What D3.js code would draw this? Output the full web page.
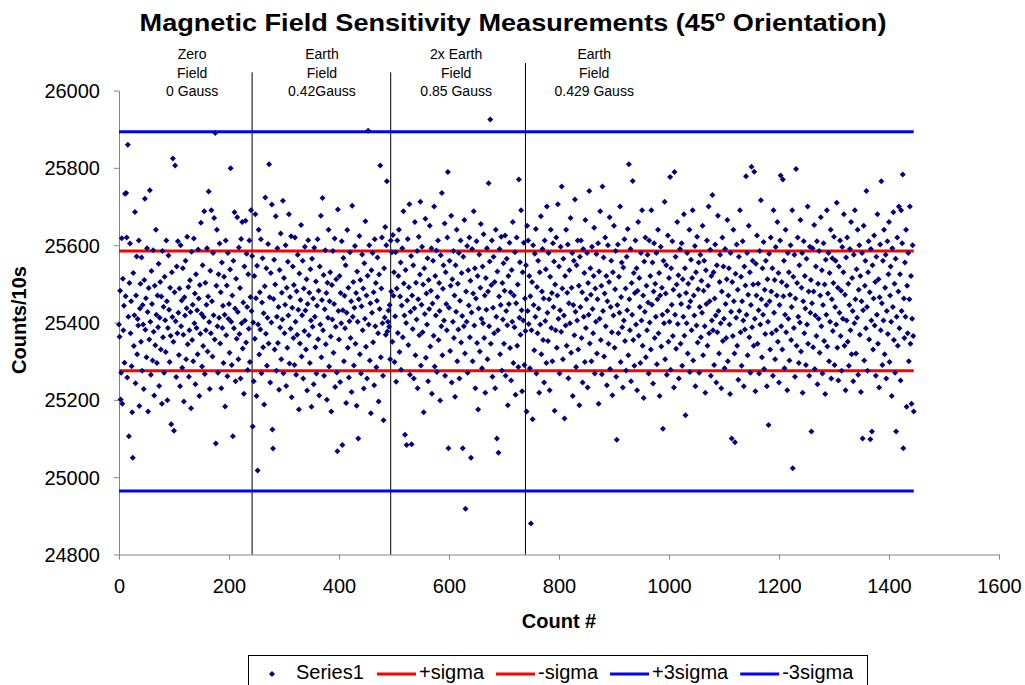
<!DOCTYPE html>
<html>
<head>
<meta charset="utf-8">
<script src="https://cdn.jsdelivr.net/npm/d3@7"></script>
<style>
  html, body { margin: 0; padding: 0; background: #fff; }
  svg { display: block; font-family: "Liberation Sans", Arial, sans-serif; }
</style>
</head>
<body>
<svg id="chart" width="1025" height="685"></svg>
<script>
// ---------- data ----------
const counts = [
25395,25363,25482,25201,25270,25618,25190,25513,25380,25443,25296,25733,25468,25735,25620,25258,25860,25415,25106,25502,
25604,25372,25455,25287,25168,25050,25528,25339,25419,25686,25243,25470,25571,25318,25409,25392,25612,25184,25436,25500,
25350,25568,25275,25445,25395,25228,25510,25720,25381,25463,25310,25592,25427,25170,25489,25356,25742,25402,25265,25533,
25448,25302,25587,25376,25211,25495,25341,25640,25420,25295,25470,25388,25552,25236,25412,25505,25330,25467,25190,25585,
25362,25441,25270,25518,25406,25324,25612,25455,25199,25386,25573,25433,25298,25490,25366,25137,25530,25414,25824,25350,
25120,25478,25806,25403,25259,25545,25372,25610,25425,25316,25488,25235,25600,25390,25457,25283,25540,25368,25196,25465,
25418,25560,25305,25437,25622,25344,25492,25260,25380,25509,25427,25178,25583,25355,25446,25300,25617,25398,25475,25240,
25525,25386,25432,25318,25589,25462,25210,25497,25371,25658,25422,25286,25548,25339,25414,25688,25267,25503,25380,25446,
25592,25325,25467,25739,25401,25228,25534,25372,25690,25455,25312,25580,25419,25670,25356,25890,25087,25495,25640,25390,
25270,25525,25412,25604,25346,25478,25230,25555,25386,25443,25295,25518,25420,25183,25612,25367,25496,25261,25580,25410,
25448,25322,25537,25799,25402,25290,25470,25106,25560,25385,25685,25436,25248,25513,25358,25672,25427,25305,25594,25370,
25489,25255,25616,25398,25660,25333,25452,25216,25545,25405,25663,25348,25578,25440,25277,25525,25384,25612,25298,25466,
25690,25430,25572,25131,25400,25248,25520,25358,25680,25463,25210,25547,25017,25395,25640,25317,25478,25382,25615,25269,
25452,25566,25336,25424,25188,25494,25723,25371,25540,25288,25412,25603,25346,25809,25465,25245,25528,25400,25705,25123,
25074,25461,25562,25330,25498,25675,25275,25415,25592,25347,25440,25226,25536,25387,25630,25305,25477,25408,25715,25269,
25515,25372,25446,25600,25236,25490,25335,25557,25418,25680,25294,25466,25384,25623,25207,25438,25545,25360,25497,25290,
25620,25402,25265,25481,25368,25575,25433,25175,25527,25346,25458,25652,25312,25419,25560,25255,25488,25378,25596,25431,
25330,25512,25224,25448,25613,25367,25477,25295,25538,25405,25182,25565,25389,25462,25240,25593,25415,25336,25506,25268,
25443,25615,25357,25482,25211,25545,25395,25676,25310,25458,25722,25380,25523,25262,25434,25587,25344,25476,25200,25503,
25412,25640,25286,25455,25530,25364,25170,25497,25408,25585,25322,25448,25617,25233,25389,25512,25271,25067,25692,25430,
25356,25520,25246,25476,25398,25610,25083,25432,25567,25300,25469,25385,25548,25192,25425,25639,25335,25490,25258,25403,
25582,25360,25455,25220,25702,25415,25505,25289,25438,25598,25345,25476,25185,25532,25402,25100,25460,25624,25318,25510,
25268,25442,25576,25380,25488,25229,25553,25410,25662,25337,25470,25255,25521,25896,25395,25600,25302,25450,25165,25535,
25425,25580,25349,25478,25238,25615,25390,25502,25284,25456,25568,25372,25196,25524,25435,25806,25310,25488,25620,25398,
25262,25147,25540,25413,25647,25368,25600,25765,25377,25402,25431,25389,25445,25305,25612,25480,25582,25350,25626,25469,
25530,25298,25416,25582,25247,25488,25612,25373,25520,25640,25324,25467,25555,25278,25444,25592,25362,25688,25501,25418,
25110,25536,25399,25083,25457,25616,25342,25491,25706,25265,25428,25572,25085,25470,25383,25548,25255,25437,25660,25315,
25503,25408,25585,25230,25460,25622,25367,25524,25712,25289,25446,25596,25375,25498,25168,25540,25422,25668,25309,25475,
25395,25566,25248,25510,25435,25650,25338,25482,25592,25216,25449,25560,25366,25700,25286,25520,25418,25586,25272,25466,
25612,25355,25502,25430,25198,25574,25390,25735,25315,25487,25548,25405,25656,25262,25530,25448,25380,25620,25789,25075,
25438,25560,25326,25495,25676,25245,25512,25402,25585,25360,25470,25208,25548,25428,25640,25300,25500,25382,25580,25255,
25456,25612,25348,25528,25417,25075,25570,25390,25665,25320,24918,25480,25402,25598,25270,25535,25444,25620,25362,25508,
25050,25426,25590,25300,25475,25688,25392,25540,25230,25462,25610,25347,25520,25175,25436,25576,25325,25490,25655,25410,
25282,25545,25398,25628,25360,25470,25218,25515,25433,25592,25305,25480,25760,25390,25558,25925,25345,25497,25612,25260,
25438,25570,25372,25505,25230,25640,25415,25100,25532,25380,25063,25467,25590,25318,25445,25622,25276,25502,25408,25553,
25345,25482,25625,25262,25430,25565,25393,25186,25520,25448,25606,25334,25478,25250,25536,25402,25660,25295,25470,25388,
25582,25213,25450,25620,25340,25498,25285,25770,25412,25556,25368,25690,25432,25222,25530,25405,25606,25290,25462,25378,
25548,25170,25650,25430,25612,25396,25520,25282,25468,24880,25380,25505,25150,25600,25445,25328,25578,25415,25642,25268,
25492,25372,25560,25436,25218,25530,25395,25675,25318,25480,25590,25355,25462,25245,25612,25404,25538,25295,25700,25425,
25352,25580,25460,25225,25518,25640,25386,25476,25300,25605,25440,25558,25172,25498,25380,25620,25335,25470,25706,25410,
25545,25268,25432,25596,25376,25752,25488,25305,25565,25418,25152,25520,25392,25640,25340,25477,25602,25256,25450,25535,
25398,25670,25322,25490,25580,25210,25445,25560,25367,25718,25428,25285,25548,25405,25612,25330,25495,25186,25570,25440,
25612,25360,25478,25245,25590,25415,25528,25298,25665,25386,25460,25580,25232,25502,25420,25740,25346,25540,25472,25300,
25596,25435,25372,25520,25645,25268,25488,25402,25577,25320,25460,25605,25190,25532,25410,25688,25355,25495,25266,25752,
25430,25568,25312,25475,25620,25390,25520,25238,25455,25600,25345,25505,25672,25280,25440,25560,25375,25212,25530,25418,
25650,25335,25486,25585,25260,25097,25445,25602,25372,25518,25425,25700,25298,25466,25555,25388,25232,25542,25405,25615,
25352,25488,25276,25570,25432,25642,25315,25809,25460,25380,25590,25248,25502,25420,25766,25355,25528,25288,25476,25612,
25395,25540,25225,25482,25660,25366,25515,25440,25295,25580,25405,25690,25340,25470,25205,25558,25428,25620,25310,25495,
25380,25575,25452,25268,25612,25400,25520,25330,25690,25446,25555,25242,25480,25605,25360,25500,25415,25580,25292,25460,
25640,25372,25528,25210,25470,25596,25338,25490,25420,25125,25560,25398,25712,25305,25475,25548,25265,25430,25625,25350,
25515,25402,25776,25278,25540,25446,25610,25365,25485,25232,25789,25420,25570,25332,25498,25660,25396,25522,25255,25470,
25590,25345,25448,25605,25288,25512,25415,25680,25366,25540,25160,25476,25398,25580,25320,25500,25440,25640,25272,25455,
25562,25380,25515,25690,25302,25470,25418,25598,25235,25530,25392,25622,25348,25486,25555,25270,25440,25575,25362,25508,
25425,25650,25315,25482,25560,25390,25218,25535,25448,25612,25340,25495,25700,25372,25455,25588,25262,25520,25405,25730,
25380,25530,25290,25462,25602,25418,25245,25548,25375,25676,25430,25320,25505,25575,25398,25230,25480,25620,25352,25545,
25410,25282,25590,25448,25360,25512,25665,25300,25470,25540,25395,25215,25580,25428,25100,25505,25365,25640,25455,25320,
25090,25526,25412,25602,25340,25485,25252,25570,25430,25690,25375,25518,25288,25455,25610,25405,25235,25545,25382,25496,
25778,25420,25580,25315,25472,25650,25362,25530,25270,25445,25803,25388,25560,25498,25340,25790,25410,25222,25552,25470,
25625,25345,25500,25432,25268,25585,25395,25716,25460,25310,25540,25420,25608,25280,25485,25370,25560,25445,25235,25512,
25402,25135,25578,25455,25330,25620,25480,25372,25540,25262,25690,25425,25510,25305,25595,25380,25470,25660,25350,25528,
25245,25445,25612,25780,25390,25505,25330,25770,25468,25560,25282,25420,25640,25375,25495,25225,25580,25410,25530,25302,
25472,25600,25355,25440,25690,25023,25518,25386,25575,25260,25462,25797,25340,25502,25620,25415,25295,25548,25400,25665,
25325,25490,25580,25218,25455,25610,25372,25520,25436,25290,25565,25395,25700,25345,25480,25262,25596,25425,25510,25118,
25450,25592,25336,25480,25652,25280,25418,25545,25365,25610,25240,25500,25410,25585,25322,25470,25672,25390,25535,25268,
25445,25605,25352,25498,25215,25562,25420,25690,25338,25475,25580,25300,25528,25402,25640,25255,25460,25566,25378,25502,
25622,25290,25440,25560,25395,25710,25335,25490,25250,25545,25425,25612,25365,25482,25275,25595,25410,25530,25680,25340,
25472,25225,25568,25405,25620,25350,25500,25288,25445,25590,25380,25660,25318,25515,25430,25248,25575,25398,25690,25460,
25320,25538,25412,25640,25265,25485,25600,25368,25520,25220,25455,25580,25100,25432,25650,25302,25495,25560,25385,25740,
25440,25275,25530,25610,25356,25478,25098,25590,25405,25118,25548,25330,25462,25625,25392,25505,25262,25570,25420,25680,
25345,25512,25232,25465,25602,25380,25765,25450,25290,25560,25405,25640,25318,25490,25575,25255,25430,25610,25370,25525,
25660,25298,25470,25545,25402,25210,25592,25440,25685,25355,25500,25270,25565,25118,25415,25620,25340,25480,25700,25385,
25525,25250,25690,25430,25605,25783,25075,25462,25360,25555,25415,25640,25182,25495,25372,25580,25300,25460,25700,25345,
25520,25190,25410,25600,25365,25170
];

const limitNames  = ["+sigma", "-sigma", "+3sigma", "-3sigma"];
const limitValues = [25585, 25275, 25893, 24964];

const fieldBreaks = [242, 494, 739];
const breakTops   = [26047, 26047, 26071];
const fieldLabelCenters = [133, 369, 613, 864];
const fieldLabels = [
  ["Zero", "Field", "0 Gauss"],
  ["Earth", "Field", "0.42Gauss"],
  ["2x Earth", "Field", "0.85 Gauss"],
  ["Earth", "Field", "0.429 Gauss"]
];

const xTicks = [0, 200, 400, 600, 800, 1000, 1200, 1400, 1600];
const yTicks = [24800, 25000, 25200, 25400, 25600, 25800, 26000];

// ---------- drawing ----------
const svg = d3.select("#chart");
const x = d3.scaleLinear().domain([0, 1600]).range([119, 999]);
const y = d3.scaleLinear().domain([24800, 26000]).range([554.5, 90.5]);

const limitColor = n => (n.indexOf("3") >= 0 ? "#0000FF" : "#FF0000");
const AXIS = "#858585";

// axes
const xAxis = svg.append("g").attr("transform", `translate(0,${y(24800)})`)
  .call(d3.axisBottom(x).tickValues(xTicks).tickSize(5).tickSizeOuter(0).tickFormat(d3.format("d")));
xAxis.select(".domain").attr("stroke", AXIS);
xAxis.selectAll(".tick line").attr("stroke", AXIS);
xAxis.selectAll(".tick text").attr("y", 38).attr("dy", 0)
  .attr("font-size", 20).attr("fill", "#000").attr("font-family", '"Liberation Sans", Arial, sans-serif');

const yAxis = svg.append("g").attr("transform", `translate(${x(0)},0)`)
  .call(d3.axisLeft(y).tickValues(yTicks).tickSize(5).tickSizeOuter(0).tickPadding(14).tickFormat(d3.format("d")));
yAxis.select(".domain").attr("stroke", AXIS);
yAxis.selectAll(".tick line").attr("stroke", AXIS);
yAxis.selectAll(".tick text").attr("dy", "0.35em")
  .attr("font-size", 20).attr("fill", "#000").attr("font-family", '"Liberation Sans", Arial, sans-serif');

// field separators
svg.append("g").selectAll("line").data(fieldBreaks).join("line")
  .attr("x1", d => x(d)).attr("x2", d => x(d))
  .attr("y1", (d, i) => y(breakTops[i])).attr("y2", y(24800))
  .attr("stroke", "#000").attr("stroke-width", 1);

// field labels
const lbl = svg.append("g").attr("font-size", 14).attr("text-anchor", "middle").attr("fill", "#000");
fieldLabels.forEach((lines, i) => {
  lines.forEach((t, j) => {
    lbl.append("text").attr("x", x(fieldLabelCenters[i])).attr("y", 59 + j * 18.5).text(t);
  });
});

// limit lines
svg.append("g").selectAll("line").data(limitValues).join("line")
  .attr("x1", x(0)).attr("x2", x(counts.length - 1))
  .attr("y1", d => y(d)).attr("y2", d => y(d))
  .attr("stroke", (d, i) => limitColor(limitNames[i])).attr("stroke-width", 3);

// points
const diamond = "M0,-3L3,0L0,3L-3,0Z";
svg.append("g").attr("fill", "#000080").selectAll("path").data(counts).join("path")
  .attr("d", diamond)
  .attr("transform", (d, i) => `translate(${x(i)},${y(d)})`);

// title (slightly wide face, as in the reference)
const title = svg.append("text").attr("transform", "translate(513,31) scale(1.13,1)")
  .attr("text-anchor", "middle").attr("font-size", 24).attr("font-weight", "bold").attr("fill", "#000");
title.append("tspan").text("Magnetic Field Sensitivity Measurements (45");
title.append("tspan").attr("font-size", 15).attr("dy", -10).text("o");
title.append("tspan").attr("dy", 10).text(" Orientation)");

// axis titles
svg.append("text").attr("x", 559).attr("y", 628).attr("text-anchor", "middle")
  .attr("font-size", 20).attr("font-weight", "bold").text("Count #");
svg.append("text").attr("transform", "translate(26,320) rotate(-90)").attr("text-anchor", "middle")
  .attr("font-size", 20).attr("font-weight", "bold").text("Counts/10s");

// legend
const lg = svg.append("g");
lg.append("rect").attr("x", 248.5).attr("y", 655.5).attr("width", 619).attr("height", 60)
  .attr("fill", "#fff").attr("stroke", "#000").attr("stroke-width", 1);
lg.append("path").attr("d", diamond).attr("fill", "#000080").attr("transform", "translate(272,674)");
lg.append("text").attr("x", 296).attr("y", 679).attr("font-size", 20).text("Series1");
let lx = 377;
limitNames.forEach((n, i) => {
  lg.append("line").attr("x1", lx).attr("x2", lx + 39).attr("y1", 674).attr("y2", 674)
    .attr("stroke", limitColor(n)).attr("stroke-width", 3);
  const t = lg.append("text").attr("x", lx + 42).attr("y", 679).attr("font-size", 20).text(n);
  lx = lx + 42 + t.node().getComputedTextLength() + 12;
});
</script>
</body>
</html>
